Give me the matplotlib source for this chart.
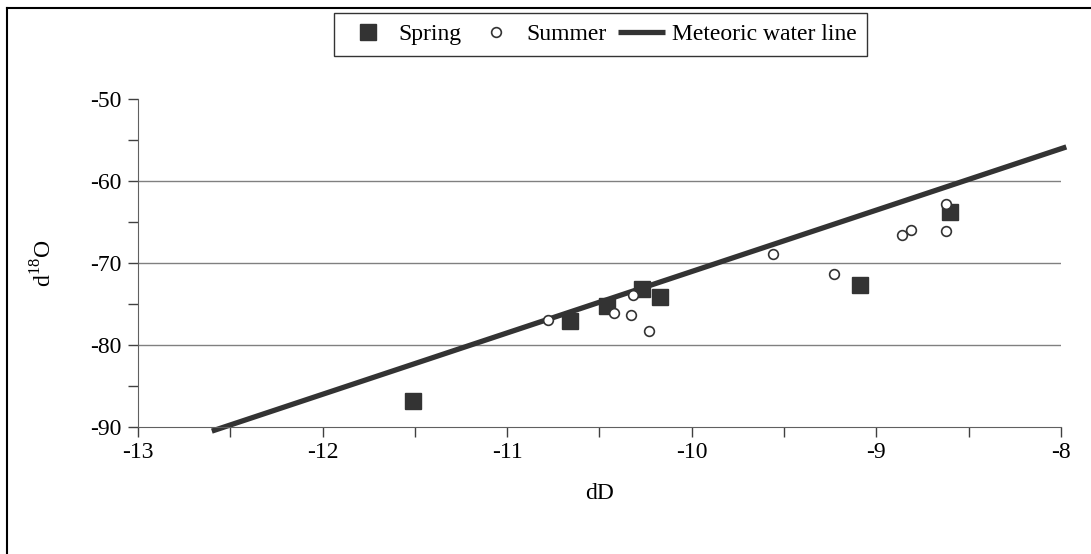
import matplotlib
matplotlib.use("Agg")
import matplotlib.pyplot as plt
from matplotlib.ticker import MultipleLocator
from matplotlib.lines import Line2D

plt.rcParams['font.family'] = ['Liberation Serif', 'DejaVu Serif']
plt.rcParams['axes.unicode_minus'] = False

# spring samples
spring_x = [-11.51, -10.66, -10.46, -10.27, -10.17, -9.09, -8.60]
spring_y = [-86.8, -77.0, -75.2, -73.2, -74.1, -72.7, -63.7]

# summer samples
summer_x = [-10.78, -10.42, -10.33, -10.32, -10.23, -9.56, -9.23, -8.86, -8.81, -8.62, -8.62]
summer_y = [-76.9, -76.1, -76.3, -73.9, -78.3, -68.9, -71.3, -66.5, -65.9, -62.8, -66.1]

# meteoric water line end points
mwl_x = [-12.6, -7.97]
mwl_y = [-90.5, -55.8]

dark = '#333333'

fig = plt.figure(figsize=(10.91, 5.54), dpi=100)
ax = fig.add_axes([0.1265, 0.2292, 0.8458, 0.5913])

ax.set_xlim(-13, -8)
ax.set_ylim(-90, -50)

for v in [-60, -70, -80]:
    ax.axhline(v, color='#808080', lw=1.0, zorder=1)

ax.plot(mwl_x, mwl_y, color=dark, lw=3.8, solid_capstyle='butt', clip_on=False, zorder=2,
        label='Meteoric water line')
ax.plot(spring_x, spring_y, ls='none', marker='s', ms=12, color=dark, mec=dark, zorder=3,
        label='Spring')
ax.plot(summer_x, summer_y, ls='none', marker='o', ms=7, mfc='white', mec=dark, mew=1.2,
        zorder=4, label='Summer')

ax.spines['top'].set_visible(False)
ax.spines['right'].set_visible(False)
ax.spines['left'].set_color('#606060')
ax.spines['bottom'].set_color('#606060')

ax.xaxis.set_major_locator(MultipleLocator(1))
ax.xaxis.set_minor_locator(MultipleLocator(0.5))
ax.yaxis.set_major_locator(MultipleLocator(10))
ax.yaxis.set_minor_locator(MultipleLocator(5))
ax.tick_params(which='both', direction='out', length=7, width=1, color='#404040',
               labelsize=17, top=False, right=False)
ax.tick_params(axis='x', pad=4)
ax.tick_params(axis='y', pad=5)

ax.set_xlabel('dD', fontsize=17, labelpad=14)
ax.set_ylabel(r'd$^{\mathregular{18}}$O', fontsize=17, labelpad=24)

h, l = ax.get_legend_handles_labels()
order = [1, 2, 0]
fig.legend([h[i] for i in order], [l[i] for i in order], loc='upper center',
           bbox_to_anchor=(0.5504, 0.9765), ncol=3, fontsize=17, frameon=True,
           fancybox=False, edgecolor='black', handlelength=2.0, handletextpad=0.3,
           columnspacing=0.45, borderpad=0.45, borderaxespad=0)

# frame lines along the top and left of the figure
fig.add_artist(Line2D([7 / 1091, 7 / 1091], [0, 1 - 8 / 554], color='black', lw=1.5))
fig.add_artist(Line2D([7 / 1091, 1], [1 - 8 / 554, 1 - 8 / 554], color='black', lw=1.5))

fig.savefig('out.png', dpi=100)
